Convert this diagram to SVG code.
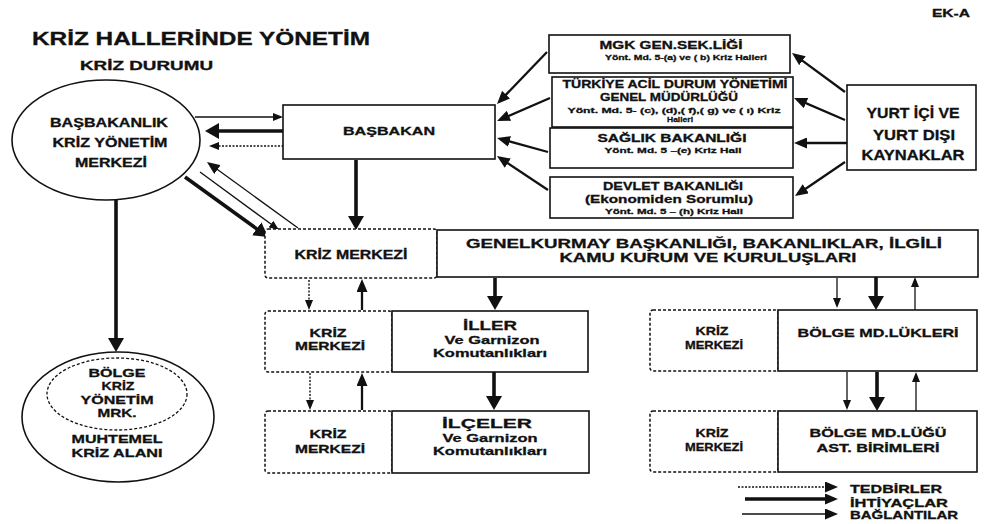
<svg xmlns="http://www.w3.org/2000/svg" width="984" height="524" viewBox="0 0 984 524">
<style>
.t{font-family:"Liberation Sans",Arial,Helvetica,sans-serif;font-weight:bold;fill:#111;stroke:#111;stroke-width:0.3;text-anchor:middle}
.s{text-anchor:start}
.box{fill:#fff;stroke:#111;stroke-width:1.6}
.dbox{fill:#fff;stroke:#111;stroke-width:1.5;stroke-dasharray:3 2}
.ell{fill:#fff;stroke:#111;stroke-width:1.6}
.dell{fill:none;stroke:#111;stroke-width:1.3;stroke-dasharray:3 2}
.thick{stroke:#111;stroke-width:3.6;fill:none}
.med{stroke:#111;stroke-width:2.3;fill:none}
.thin{stroke:#111;stroke-width:1.3;fill:none}
.dot{stroke:#111;stroke-width:1.4;stroke-dasharray:2 1.5;fill:none}
</style>
<defs>
<marker id="b" viewBox="0 0 14 16" refX="10" refY="8" markerWidth="14" markerHeight="16" markerUnits="userSpaceOnUse" orient="auto"><path d="M0,0 L14,8 L0,16 z" fill="#111"/></marker>
<marker id="m" viewBox="0 0 13 11" refX="9" refY="5.5" markerWidth="13" markerHeight="11" markerUnits="userSpaceOnUse" orient="auto"><path d="M0,0 L13,5.5 L0,11 z" fill="#111"/></marker>
<marker id="s" viewBox="0 0 10 8" refX="8" refY="4" markerWidth="10" markerHeight="8" markerUnits="userSpaceOnUse" orient="auto"><path d="M0,0 L10,4 L0,8 z" fill="#111"/></marker>
</defs>
<rect width="984" height="524" fill="#fff"/>

<g id="titles">
<text class="t s" x="32" y="45" font-size="17.5" textLength="338" lengthAdjust="spacingAndGlyphs">KRİZ HALLERİNDE YÖNETİM</text>
<text class="t s" x="80" y="70" font-size="12" textLength="133" lengthAdjust="spacingAndGlyphs">KRİZ DURUMU</text>
<text class="t s" x="932" y="17" font-size="11" textLength="38" lengthAdjust="spacingAndGlyphs">EK-A</text>
</g>

<g id="connectors">
<line class="thin" x1="195" y1="117" x2="281" y2="117" marker-end="url(#s)"/>
<line class="thick" x1="283" y1="131" x2="209" y2="131" marker-end="url(#b)"/>
<line class="dot" x1="287" y1="146" x2="211" y2="146" marker-end="url(#s)"/>
<line class="thick" x1="185" y1="177" x2="264.8" y2="234.7" marker-end="url(#b)"/>
<line class="thin" x1="200" y1="172" x2="277.4" y2="228.8" marker-end="url(#s)"/>
<line class="thin" x1="298" y1="228" x2="210.2" y2="164.3" marker-end="url(#m)"/>
<line class="thick" x1="356" y1="160" x2="356" y2="226" marker-end="url(#b)"/>
<line class="thick" x1="116" y1="200" x2="116" y2="348" marker-end="url(#b)"/>

<line class="med" x1="547" y1="52" x2="499.8" y2="101.1" marker-end="url(#m)"/>
<line class="med" x1="550" y1="98" x2="500.7" y2="119.4" marker-end="url(#m)"/>
<line class="med" x1="548" y1="152" x2="500.9" y2="139.1" marker-end="url(#m)"/>
<line class="med" x1="548" y1="190" x2="500.3" y2="158.2" marker-end="url(#m)"/>
<line class="med" x1="845" y1="92" x2="795.2" y2="55.4" marker-end="url(#m)"/>
<line class="med" x1="845" y1="120" x2="797.7" y2="99.6" marker-end="url(#m)"/>
<line class="med" x1="847" y1="143" x2="798" y2="143" marker-end="url(#m)"/>
<line class="med" x1="845" y1="162" x2="798.3" y2="193.8" marker-end="url(#m)"/>

<line class="dot" x1="309" y1="280" x2="309" y2="308" marker-end="url(#s)"/>
<line class="med" x1="362" y1="310" x2="362" y2="283" marker-end="url(#m)"/>
<line class="thick" x1="495" y1="278" x2="495" y2="306" marker-end="url(#b)"/>
<line class="dot" x1="310" y1="373" x2="310" y2="408" marker-end="url(#s)"/>
<line class="med" x1="362" y1="410" x2="362" y2="377" marker-end="url(#m)"/>
<line class="thick" x1="494" y1="372" x2="494" y2="406" marker-end="url(#b)"/>

<line class="thin" x1="837" y1="278" x2="837" y2="306" marker-end="url(#s)"/>
<line class="thick" x1="876" y1="277" x2="876" y2="306" marker-end="url(#b)"/>
<line class="thin" x1="915" y1="310" x2="915" y2="279" marker-end="url(#s)"/>
<line class="thin" x1="847" y1="372" x2="847" y2="408" marker-end="url(#s)"/>
<line class="thick" x1="877" y1="372" x2="877" y2="407" marker-end="url(#b)"/>
<line class="thin" x1="916" y1="411" x2="916" y2="374" marker-end="url(#s)"/>
</g>

<g id="bbkym">
<ellipse class="ell" cx="106" cy="140" rx="94" ry="60"/>
<text class="t" x="109" y="127" font-size="12" textLength="118" lengthAdjust="spacingAndGlyphs">BAŞBAKANLIK</text>
<text class="t" x="110" y="147" font-size="12" textLength="115" lengthAdjust="spacingAndGlyphs">KRİZ YÖNETİM</text>
<text class="t" x="111" y="167" font-size="12" textLength="72" lengthAdjust="spacingAndGlyphs">MERKEZİ</text>
</g>

<g id="basbakan">
<rect class="box" x="283" y="105" width="212" height="54"/>
<text class="t" x="389" y="135" font-size="11.5" textLength="92" lengthAdjust="spacingAndGlyphs">BAŞBAKAN</text>
</g>

<g id="mgk">
<rect class="box" x="549" y="35" width="241" height="38"/>
<text class="t" x="671" y="49" font-size="10.5" textLength="143" lengthAdjust="spacingAndGlyphs">MGK GEN.SEK.LİĞİ</text>
<text class="t" x="686" y="60" font-size="7.5" textLength="162" lengthAdjust="spacingAndGlyphs">Yönt. Md. 5-(a) ve ( b) Kriz Halleri</text>
</g>

<g id="tadym">
<rect class="box" x="552" y="77" width="241" height="50"/>
<text class="t" x="675" y="88" font-size="10.5" textLength="225" lengthAdjust="spacingAndGlyphs">TÜRKİYE ACİL DURUM YÖNETİMİ</text>
<text class="t" x="669" y="101" font-size="10.5" textLength="138" lengthAdjust="spacingAndGlyphs">GENEL MÜDÜRLÜĞÜ</text>
<text class="t" x="674" y="113" font-size="7.5" textLength="213" lengthAdjust="spacingAndGlyphs">Yönt. Md. 5- (c), (d),( f),( g) ve ( ı) Kriz</text>
<text class="t" x="680" y="122" font-size="7.5" textLength="26" lengthAdjust="spacingAndGlyphs">Halleri</text>
</g>

<g id="saglik">
<rect class="box" x="550" y="128" width="243" height="40"/>
<text class="t" x="672" y="142" font-size="10.5" textLength="149" lengthAdjust="spacingAndGlyphs">SAĞLIK BAKANLIĞI</text>
<text class="t" x="673" y="153" font-size="7.5" textLength="137" lengthAdjust="spacingAndGlyphs">Yönt. Md. 5 –(e) Kriz Hali</text>
</g>

<g id="devlet">
<rect class="box" x="550" y="177" width="243" height="41"/>
<text class="t" x="673" y="190" font-size="10.5" textLength="140" lengthAdjust="spacingAndGlyphs">DEVLET BAKANLIĞI</text>
<text class="t" x="669" y="203" font-size="10.5" textLength="168" lengthAdjust="spacingAndGlyphs">(Ekonomiden Sorumlu)</text>
<text class="t" x="674" y="214" font-size="7.5" textLength="138" lengthAdjust="spacingAndGlyphs">Yönt. Md. 5 – (h) Kriz Hali</text>
</g>

<g id="yurt">
<rect class="box" x="847" y="85" width="129" height="85"/>
<text class="t" x="913" y="118" font-size="14" textLength="93" lengthAdjust="spacingAndGlyphs">YURT İÇİ VE</text>
<text class="t" x="914" y="140" font-size="14" textLength="82" lengthAdjust="spacingAndGlyphs">YURT DIŞI</text>
<text class="t" x="913" y="160" font-size="14" textLength="103" lengthAdjust="spacingAndGlyphs">KAYNAKLAR</text>
</g>

<g id="km1">
<rect class="dbox" x="265" y="229" width="172" height="49" rx="3"/>
<text class="t" x="351" y="259" font-size="12" textLength="113" lengthAdjust="spacingAndGlyphs">KRİZ MERKEZİ</text>
</g>

<g id="genelkurmay">
<rect class="box" x="437" y="230" width="541" height="47"/>
<text class="t" x="704" y="248" font-size="13" textLength="476" lengthAdjust="spacingAndGlyphs">GENELKURMAY BAŞKANLIĞI, BAKANLIKLAR, İLGİLİ</text>
<text class="t" x="708" y="262" font-size="13" textLength="297" lengthAdjust="spacingAndGlyphs">KAMU KURUM VE KURULUŞLARI</text>
</g>

<g id="km2">
<rect class="dbox" x="265" y="311" width="127" height="61" rx="3"/>
<text class="t" x="328" y="337" font-size="11" textLength="37" lengthAdjust="spacingAndGlyphs">KRİZ</text>
<text class="t" x="330" y="350" font-size="11" textLength="70" lengthAdjust="spacingAndGlyphs">MERKEZİ</text>
</g>

<g id="iller">
<rect class="box" x="392" y="311" width="196" height="61"/>
<text class="t" x="490" y="330" font-size="13.5" textLength="54" lengthAdjust="spacingAndGlyphs">İLLER</text>
<text class="t" x="492" y="344" font-size="11" textLength="95" lengthAdjust="spacingAndGlyphs">Ve Garnizon</text>
<text class="t" x="490" y="357" font-size="11" textLength="114" lengthAdjust="spacingAndGlyphs">Komutanlıkları</text>
</g>

<g id="km3">
<rect class="dbox" x="265" y="411" width="127" height="62" rx="3"/>
<text class="t" x="328" y="438" font-size="11" textLength="37" lengthAdjust="spacingAndGlyphs">KRİZ</text>
<text class="t" x="330" y="453" font-size="11" textLength="70" lengthAdjust="spacingAndGlyphs">MERKEZİ</text>
</g>

<g id="ilceler">
<rect class="box" x="392" y="411" width="197" height="62"/>
<text class="t" x="487" y="428" font-size="13.5" textLength="90" lengthAdjust="spacingAndGlyphs">İLÇELER</text>
<text class="t" x="490" y="442" font-size="11" textLength="95" lengthAdjust="spacingAndGlyphs">Ve Garnizon</text>
<text class="t" x="490" y="455" font-size="11" textLength="114" lengthAdjust="spacingAndGlyphs">Komutanlıkları</text>
</g>

<g id="km4">
<rect class="dbox" x="650" y="310" width="128" height="61" rx="3"/>
<text class="t" x="712" y="335" font-size="11" textLength="33" lengthAdjust="spacingAndGlyphs">KRİZ</text>
<text class="t" x="714" y="349" font-size="11" textLength="58" lengthAdjust="spacingAndGlyphs">MERKEZİ</text>
</g>

<g id="bolgemd">
<rect class="box" x="778" y="310" width="199" height="61"/>
<text class="t" x="878" y="337" font-size="11.5" textLength="161" lengthAdjust="spacingAndGlyphs">BÖLGE MD.LÜKLERİ</text>
</g>

<g id="km5">
<rect class="dbox" x="650" y="411" width="128" height="61" rx="3"/>
<text class="t" x="712" y="437" font-size="11" textLength="33" lengthAdjust="spacingAndGlyphs">KRİZ</text>
<text class="t" x="714" y="451" font-size="11" textLength="58" lengthAdjust="spacingAndGlyphs">MERKEZİ</text>
</g>

<g id="bolgeast">
<rect class="box" x="778" y="411" width="199" height="61"/>
<text class="t" x="878" y="437" font-size="11.5" textLength="137" lengthAdjust="spacingAndGlyphs">BÖLGE MD.LÜĞÜ</text>
<text class="t" x="878" y="452" font-size="11.5" textLength="123" lengthAdjust="spacingAndGlyphs">AST. BİRİMLERİ</text>
</g>

<g id="kriz-alani">
<ellipse class="ell" cx="118" cy="417" rx="96" ry="65"/>
<ellipse class="dell" cx="117" cy="394" rx="70" ry="36"/>
<text class="t" x="117" y="377" font-size="11.5" textLength="57" lengthAdjust="spacingAndGlyphs">BÖLGE</text>
<text class="t" x="118" y="390" font-size="11.5" textLength="33" lengthAdjust="spacingAndGlyphs">KRİZ</text>
<text class="t" x="117" y="404" font-size="11.5" textLength="73" lengthAdjust="spacingAndGlyphs">YÖNETİM</text>
<text class="t" x="117" y="417" font-size="11.5" textLength="39" lengthAdjust="spacingAndGlyphs">MRK.</text>
<text class="t" x="117" y="443" font-size="11.5" textLength="91" lengthAdjust="spacingAndGlyphs">MUHTEMEL</text>
<text class="t" x="117" y="457" font-size="11.5" textLength="91" lengthAdjust="spacingAndGlyphs">KRİZ ALANI</text>
</g>

<g id="legend">
<line class="dot" x1="738" y1="487" x2="834" y2="487" marker-end="url(#m)"/>
<line class="thick" x1="745" y1="499" x2="834" y2="499" marker-end="url(#m)"/>
<line class="thin" x1="742" y1="514" x2="834" y2="514" marker-end="url(#m)"/>
<text class="t s" x="850" y="493" font-size="11" textLength="92" lengthAdjust="spacingAndGlyphs">TEDBİRLER</text>
<text class="t s" x="850" y="507" font-size="11" textLength="98" lengthAdjust="spacingAndGlyphs">İHTİYAÇLAR</text>
<text class="t s" x="850" y="519" font-size="11" textLength="108" lengthAdjust="spacingAndGlyphs">BAĞLANTILAR</text>
</g>
</svg>
